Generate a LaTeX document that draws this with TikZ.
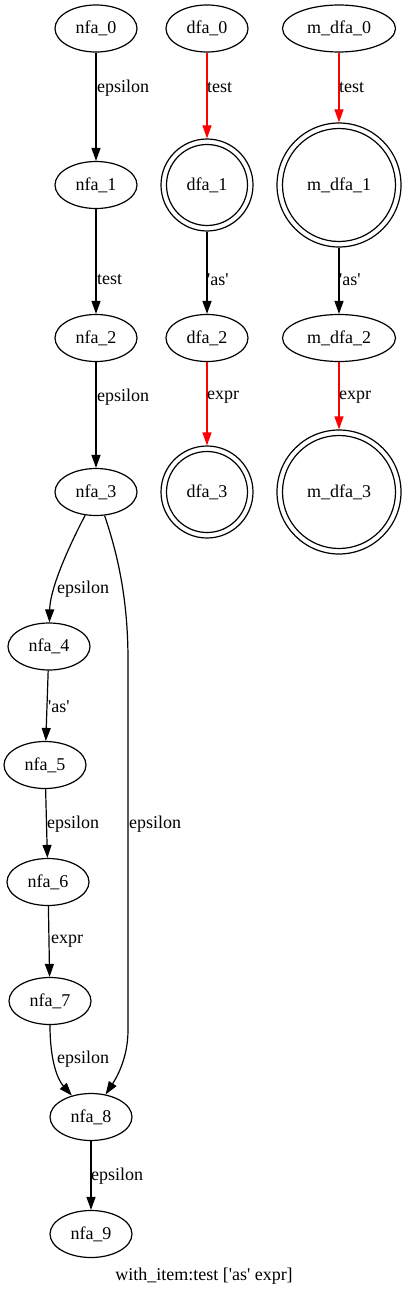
\documentclass[tikz,border=0pt]{standalone}
\usepackage{fontspec}
\setmainfont{Liberation Serif}
\usetikzlibrary{arrows.meta,shapes.geometric}
\newcommand{\sq}{\textquotesingle}
\begin{document}
\begin{tikzpicture}[x=1pt,y=-1pt,
  every node/.style={font=\fontsize{18}{21}\selectfont},
  state/.style={ellipse,draw,line width=1.2pt,minimum width=82pt,minimum height=47pt,inner sep=0pt},
  wstate/.style={ellipse,draw,line width=1.2pt,minimum width=113pt,minimum height=47pt,inner sep=0pt},
  acc/.style={circle,draw,line width=1.2pt,minimum size=92pt,inner sep=0pt},
  bigacc/.style={circle,draw,line width=1.2pt,minimum size=124pt,inner sep=0pt},
  edge/.style={line width=1.2pt,-{Triangle[length=13pt,width=9pt]}},
  redge/.style={line width=1.2pt,draw=red,-{Triangle[length=13pt,width=9pt,fill=red]}},
  lbl/.style={anchor=west,inner sep=0pt}]
\useasboundingbox[fill=white] (0,0) rectangle (405,1295);
% NFA column
\node[state] (nfa_0) at (96,28.5) {nfa\_0};
\node[state] (nfa_1) at (96,185) {nfa\_1};
\node[state] (nfa_2) at (96,338) {nfa\_2};
\node[state] (nfa_3) at (96,492) {nfa\_3};
\node[state] (nfa_4) at (49,646.5) {nfa\_4};
\node[state] (nfa_5) at (45,765) {nfa\_5};
\node[state] (nfa_6) at (48,882) {nfa\_6};
\node[state] (nfa_7) at (50,1001) {nfa\_7};
\node[state] (nfa_8) at (91,1117) {nfa\_8};
\node[state] (nfa_9) at (91,1234) {nfa\_9};
% DFA column
\node[state] (dfa_0) at (207,28.5) {dfa\_0};
\node[acc] (dfa_1) at (207,185) {dfa\_1};
\draw[line width=1.2pt] (dfa_1.center) circle[radius=40.5pt];
\node[state] (dfa_2) at (207,338) {dfa\_2};
\node[acc] (dfa_3) at (207,492) {dfa\_3};
\draw[line width=1.2pt] (dfa_3.center) circle[radius=40.5pt];
% minimized DFA column
\node[wstate] (m_dfa_0) at (339,28.5) {m\_dfa\_0};
\node[bigacc] (m_dfa_1) at (339,185) {m\_dfa\_1};
\draw[line width=1.2pt] (m_dfa_1.center) circle[radius=56.5pt];
\node[wstate] (m_dfa_2) at (339,338) {m\_dfa\_2};
\node[bigacc] (m_dfa_3) at (339,492) {m\_dfa\_3};
\draw[line width=1.2pt] (m_dfa_3.center) circle[radius=56.5pt];
% NFA edges
\draw[edge] (nfa_0) -- (nfa_1);
\node[lbl] (l01) at (97,88) {epsilon};
\draw[edge] (nfa_1) -- (nfa_2);
\node[lbl] (l12) at (97,280) {test};
\draw[edge] (nfa_2) -- (nfa_3);
\node[lbl] (l23) at (97,397) {epsilon};
\draw[edge] (nfa_3.245) .. controls (66,552) and (50,590) .. (nfa_4);
\node[lbl] (l34) at (57,589) {epsilon};
\draw[edge] (nfa_3.290) .. controls (118,555) and (128,600) .. (128,660) -- (128,1030) .. controls (128,1060) and (115,1080) .. (nfa_8);
\node[lbl] (l38) at (129,824) {epsilon};
\draw[edge] (nfa_4) -- (nfa_5);
\node[lbl] (l45) at (48,707) {\sq as\sq};
\draw[edge] (nfa_5) -- (nfa_6);
\node[lbl] (l56) at (47,824) {epsilon};
\draw[edge] (nfa_6) -- (nfa_7);
\node[lbl] (l67) at (51,941) {expr};
\draw[edge] (nfa_7.south) .. controls (50,1062) and (58,1080) .. (nfa_8);
\node[lbl] (l78) at (57,1059) {epsilon};
\draw[edge] (nfa_8) -- (nfa_9);
\node[lbl] (l89) at (91,1176) {epsilon};
% DFA edges
\draw[redge] (dfa_0) -- (dfa_1);
\node[lbl] (d01) at (207,88) {test};
\draw[edge] (dfa_1) -- (dfa_2);
\node[lbl] (d12) at (207,280) {\sq as\sq};
\draw[redge] (dfa_2) -- (dfa_3);
\node[lbl] (d23) at (207,397) {expr};
% minimized DFA edges
\draw[redge] (m_dfa_0) -- (m_dfa_1);
\node[lbl] (m01) at (339,88) {test};
\draw[edge] (m_dfa_1) -- (m_dfa_2);
\node[lbl] (m12) at (339,280) {\sq as\sq};
\draw[redge] (m_dfa_2) -- (m_dfa_3);
\node[lbl] (m23) at (339,397) {expr};
% title
\node (title) at (204,1276) {with\_item:test [\sq as\sq{} expr]};
\end{tikzpicture}
\end{document}
